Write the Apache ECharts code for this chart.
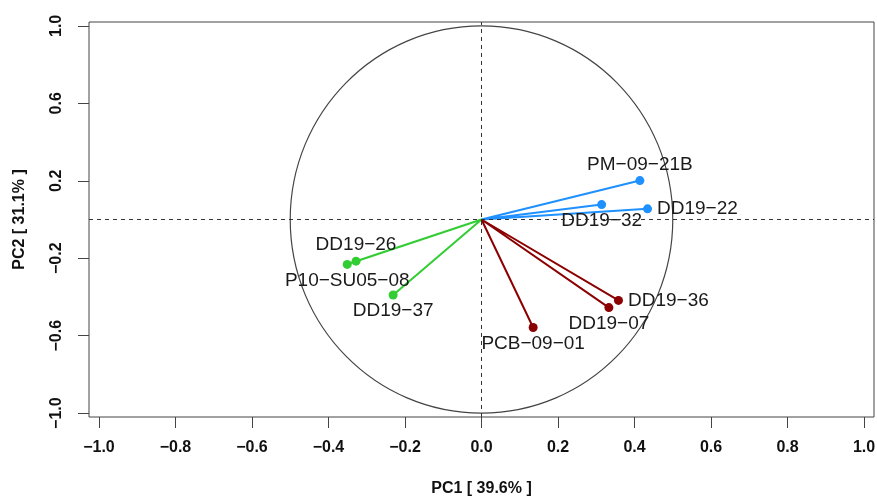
<!DOCTYPE html>
<html><head><meta charset="utf-8">
<script src="https://cdn.jsdelivr.net/npm/echarts@6/dist/echarts.min.js"></script>
<style>html,body{margin:0;padding:0;background:#fff}#c{width:877px;height:497px}</style>
</head><body><div id="c"></div>
<script>
// ---- data ----
const variables = ['PM−09−21B','DD19−32','DD19−22','DD19−26','P10−SU05−08','DD19−37','DD19−36','DD19−07','PCB−09−01'];
const pc1 = [0.414, 0.314, 0.434, -0.328, -0.351, -0.231, 0.358, 0.333, 0.135];
const pc2 = [0.201, 0.077, 0.055, -0.215, -0.232, -0.390, -0.418, -0.455, -0.558];
const groupOf = [0, 0, 0, 1, 1, 1, 2, 2, 2];
const xTicks = [-1, -0.8, -0.6, -0.4, -0.2, 0, 0.2, 0.4, 0.6, 0.8, 1];
const yTicks = [-1, -0.6, -0.2, 0.2, 0.6, 1];
const xAxisTitle = 'PC1 [ 39.6% ]';
const yAxisTitle = 'PC2 [ 31.1% ]';
const circleRadiusX = 0.5;
const circleRadiusY = 1.0;

// ---- styles ----
const groupColors = ['#1E90FF', '#32CD32', '#8B0000'];
const labelPos = ['top','bottom','right','top','bottom','bottom','right','bottom','bottom'];
const fmt = v => (Math.abs(v) < 1e-9 ? 0 : v).toFixed(1).replace('-', '−');
const FONT = '"Liberation Sans", Arial, sans-serif';

const chart = echarts.init(document.getElementById('c'));

const series = groupColors.map((col, g) => {
  const data = [];
  variables.forEach((name, i) => {
    if (groupOf[i] !== g) return;
    data.push({ value: [0, 0], symbol: 'none', label: { show: false } });
    data.push({
      value: [pc1[i], pc2[i]], name: name,
      label: { show: true, position: labelPos[i], distance: labelPos[i] === 'right' ? 5 : 2,
        formatter: name, color: '#1a1a1a', fontSize: 19, fontFamily: FONT }
    });
  });
  data.push({ value: [0, 0], symbol: 'none', label: { show: false } });
  return {
    type: 'line', data: data, symbol: 'circle', symbolSize: 9, z: 3,
    lineStyle: { color: col, width: 2 }, itemStyle: { color: col },
    showAllSymbol: true, silent: true
  };
});
series[0].markLine = {
  symbol: 'none', silent: true, label: { show: false }, animation: false,
  lineStyle: { type: [4, 4], color: '#333', width: 1 },
  data: [{ xAxis: 0 }, { yAxis: 0 }]
};

chart.setOption({
  animation: false,
  backgroundColor: '#fff',
  grid: { left: 89, top: 22, width: 785, height: 395, outerBoundsMode: 'none', containLabel: false,
    show: true, borderColor: '#444', borderWidth: 1, backgroundColor: 'transparent' },
  xAxis: {
    type: 'value', min: -1.026, max: 1.026,
    axisLine: { show: false, onZero: false },
    splitLine: { show: false },
    axisTick: { show: true, inside: false, length: 11, lineStyle: { color: '#444' }, customValues: xTicks },
    axisLabel: { customValues: xTicks, formatter: fmt, margin: 23, color: '#111', fontWeight: 'bold', fontSize: 16, fontFamily: FONT },
    name: xAxisTitle, nameLocation: 'middle', nameGap: 64,
    nameTextStyle: { color: '#111', fontWeight: 'bold', fontSize: 16, fontFamily: FONT }
  },
  yAxis: {
    type: 'value', min: -1.02, max: 1.02,
    axisLine: { show: false, onZero: false },
    splitLine: { show: false },
    axisTick: { show: true, inside: false, length: 11, lineStyle: { color: '#444' }, customValues: yTicks },
    axisLabel: { customValues: yTicks, formatter: fmt, rotate: 90, margin: 24, color: '#111', fontWeight: 'bold', fontSize: 16, fontFamily: FONT },
    name: yAxisTitle, nameLocation: 'middle', nameGap: 61,
    nameTextStyle: { color: '#111', fontWeight: 'bold', fontSize: 16, fontFamily: FONT }
  },
  series: series
});

const c0 = chart.convertToPixel({ gridIndex: 0 }, [0, 0]);
const cx1 = chart.convertToPixel({ gridIndex: 0 }, [circleRadiusX, circleRadiusY]);
chart.setOption({
  graphic: [{
    type: 'ellipse', silent: true, z: 1,
    shape: { cx: c0[0], cy: c0[1], rx: cx1[0] - c0[0], ry: c0[1] - cx1[1] },
    style: { fill: null, stroke: '#444', lineWidth: 1.2 }
  }]
});
</script></body></html>
